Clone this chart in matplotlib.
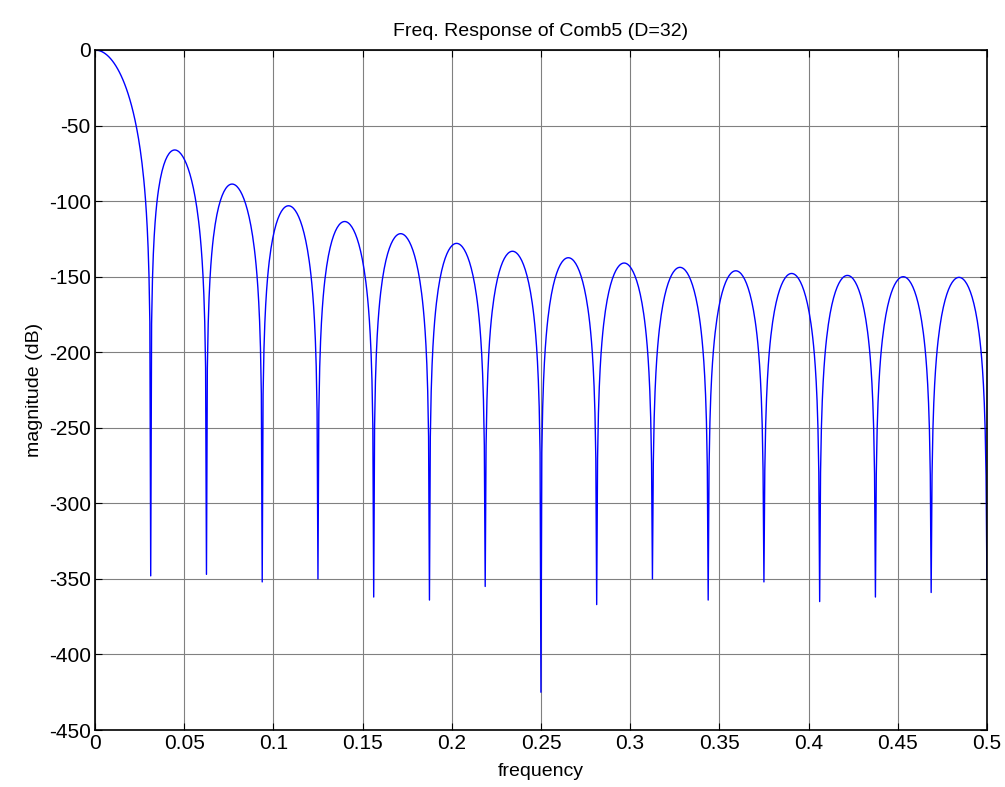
import numpy as np
import matplotlib
matplotlib.use("Agg")
import matplotlib.pyplot as plt

# comb (CIC) filter parameters shown in the title
D = 32
STAGES = 5
N_POINTS = 1024          # frequency samples over [0, 0.5]

# depth of each null (dB) at f = k/D (numerical floor)
null_depths = [-348, -347, -352, -350, -362, -364, -355, -425,
               -367, -350, -364, -352, -365, -362, -359, -350]

x_ticks = [0, 0.05, 0.1, 0.15, 0.2, 0.25, 0.3, 0.35, 0.4, 0.45, 0.5]
x_labels = ["0", "0.05", "0.1", "0.15", "0.2", "0.25", "0.3", "0.35", "0.4", "0.45", "0.5"]
y_ticks = [0, -50, -100, -150, -200, -250, -300, -350, -400, -450]

f = np.arange(N_POINTS + 1) / (2 * N_POINTS)
with np.errstate(divide="ignore", invalid="ignore"):
    h = np.abs(np.sin(np.pi * f * D) / (D * np.sin(np.pi * f))) ** STAGES
h[0] = 1.0
mag = 20 * np.log10(np.maximum(h, 1e-300))
step = N_POINTS // (D // 2)
for k, depth in enumerate(null_depths, start=1):
    mag[k * step] = depth

plt.rcParams["font.family"] = ["Liberation Sans", "DejaVu Sans"]
plt.rcParams["axes.unicode_minus"] = False
fig = plt.figure(figsize=(10.05, 7.87), dpi=100)
ax = fig.add_axes([0.0945, 0.0724, 0.8875, 0.8641])
ax.plot(f, mag, color="#0000ff", lw=1.0)

ax.set_xlim(0, 0.5)
ax.set_ylim(-450, 0)
ax.set_xticks(x_ticks)
ax.set_xticklabels(x_labels)
ax.set_yticks(y_ticks)
ax.grid(True, color="#808080", lw=0.8)
ax.tick_params(direction="in", labelsize=15, length=5, top=True, right=True, pad=3)
for s in ax.spines.values():
    s.set_linewidth(1.2)
ax.set_title("Freq. Response of Comb5 (D=32)", fontsize=14, pad=10)
ax.set_xlabel("frequency", fontsize=14, labelpad=7)
ax.set_ylabel("magnitude (dB)", fontsize=14, labelpad=4)

fig.savefig("out.png", dpi=100)
